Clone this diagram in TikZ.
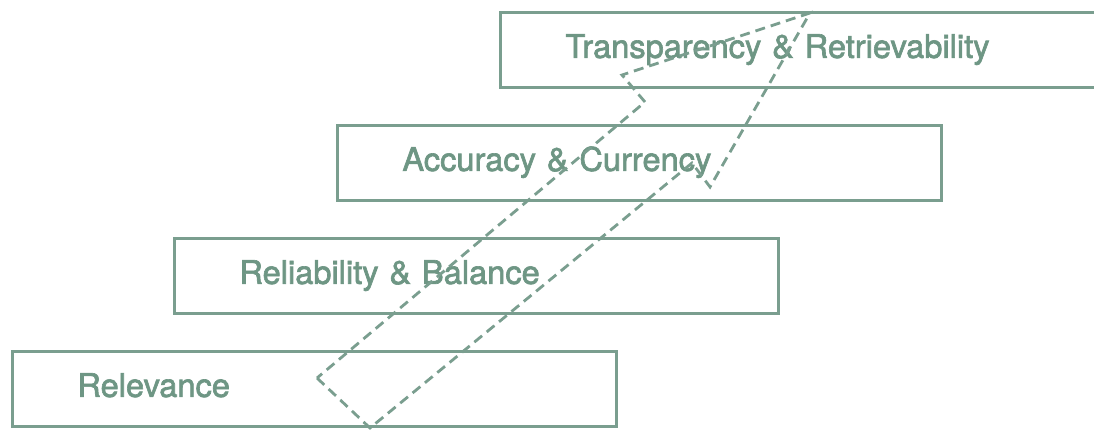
\documentclass[tikz,border=0pt]{standalone}
\usepackage{fontspec}
\setmainfont{TeX Gyre Heros}
\newfontfamily\levelfont{TeX Gyre Heros}[FakeBold=2]
\usepackage{tikz}
\definecolor{sage}{RGB}{122,158,143}
\definecolor{sagetext}{RGB}{110,150,132}

\begin{document}
\begin{tikzpicture}[x=1pt,y=-1pt,
    level/.style={draw=sage,line width=2.8pt,anchor=north west,
      minimum width=604pt,minimum height=75pt,text width=474pt,
      inner xsep=65pt,align=left,text height=23pt,text depth=7pt,
      text=sagetext,font=\levelfont\fontsize{32.6}{38}\selectfont},
    climb/.style={draw=sage,line width=2.8pt,dash pattern=on 10pt off 6pt}]
    %initialisation
    \useasboundingbox (0,0) rectangle (1094,430);
    \clip (0,0) rectangle (1094,430);
    %levels
    \node[level] (relevance) at (11,350) {Relevance};
    \node[level] (reliability) at (173,237) {Reliability \& Balance};
    \node[level] (accuracy) at (336,124) {Accuracy \& Currency};
    \node[level] (transparency) at (499,11) {Transparency \& Retrievability};
    %definitions
    \coordinate (tailL) at (317,378);
    \coordinate (tailB) at (370,428);
    \coordinate (neckR) at (692,163);
    \coordinate (headR) at (710,187);
    \coordinate (tip) at (810,13);
    \coordinate (headL) at (622,75);
    \coordinate (neckL) at (645,102);
    %drawing
    \draw[climb] (tailL) -- (tailB) -- (neckR) -- (headR) -- (tip)
      -- (headL) -- (neckL) -- cycle;
\end{tikzpicture}
\end{document}
